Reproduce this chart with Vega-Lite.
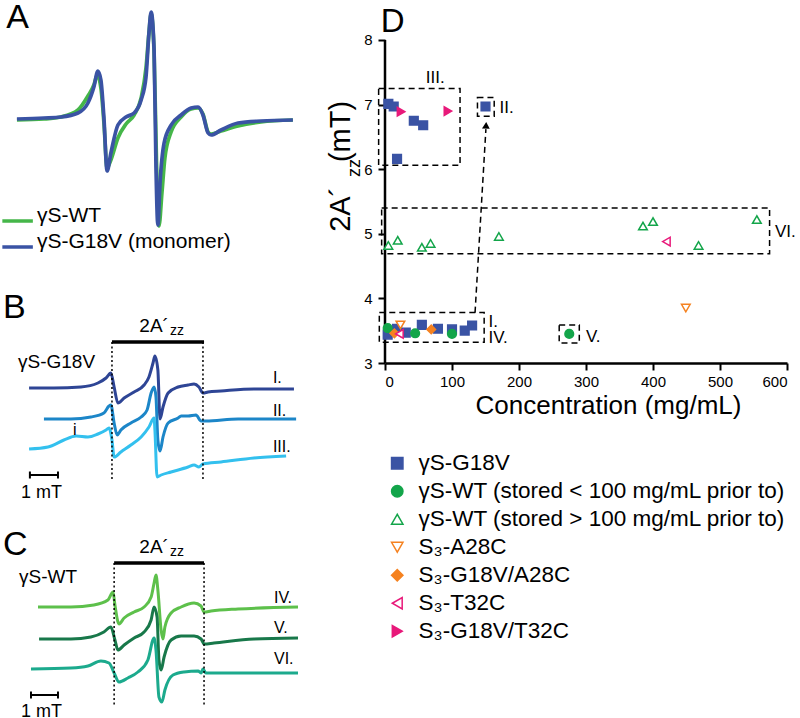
{
  "$schema": "https://vega.github.io/schema/vega-lite/v6.json",
  "padding": 0,
  "spacing": 21,
  "bounds": "full",
  "config": {
    "font": "Liberation Sans",
    "view": {"stroke": null},
    "text": {"font": "Liberation Sans", "color": "black"},
    "axis": {"grid": false, "domainColor": "black", "domainWidth": 2.5, "tickColor": "black", "tickWidth": 2, "tickSize": 7, "labelColor": "black", "labelFont": "Liberation Sans", "labelFontSize": 15, "titleColor": "black", "titleFont": "Liberation Sans", "titleFontWeight": "normal"}
  },
  "datasets": {
    "spectra": [
      {"s":"A1","mT":0.59,"sig":59.8},{"s":"A1","mT":1.59,"sig":59.9},{"s":"A1","mT":2.22,"sig":60.1},{"s":"A1","mT":2.85,"sig":60.8},{"s":"A1","mT":3.22,"sig":62.2},{"s":"A1","mT":3.44,"sig":63.3},{"s":"A1","mT":3.56,"sig":64.3},{"s":"A1","mT":3.70,"sig":63.0},{"s":"A1","mT":3.81,"sig":59.6},{"s":"A1","mT":3.93,"sig":55.0},{"s":"A1","mT":4.07,"sig":55.8},{"s":"A1","mT":4.33,"sig":58.0},{"s":"A1","mT":4.63,"sig":59.4},{"s":"A1","mT":4.93,"sig":60.3},{"s":"A1","mT":5.19,"sig":62.0},{"s":"A1","mT":5.37,"sig":65.0},{"s":"A1","mT":5.48,"sig":68.5},{"s":"A1","mT":5.56,"sig":70.4},{"s":"A1","mT":5.67,"sig":66.5},{"s":"A1","mT":5.76,"sig":55.5},{"s":"A1","mT":5.85,"sig":49.2},{"s":"A1","mT":5.96,"sig":52.5},{"s":"A1","mT":6.07,"sig":56.0},{"s":"A1","mT":6.30,"sig":58.6},{"s":"A1","mT":6.67,"sig":60.1},{"s":"A1","mT":7.04,"sig":60.9},{"s":"A1","mT":7.30,"sig":61.0},{"s":"A1","mT":7.48,"sig":60.4},{"s":"A1","mT":7.67,"sig":58.6},{"s":"A1","mT":7.78,"sig":58.4},{"s":"A1","mT":8.15,"sig":58.7},{"s":"A1","mT":8.78,"sig":59.2},{"s":"A1","mT":9.63,"sig":59.6},{"s":"A1","mT":10.81,"sig":59.8},
      {"s":"A2","mT":0.59,"sig":59.9},{"s":"A2","mT":1.59,"sig":60.0},{"s":"A2","mT":2.22,"sig":60.1},{"s":"A2","mT":2.85,"sig":60.5},{"s":"A2","mT":3.22,"sig":61.5},{"s":"A2","mT":3.44,"sig":63.1},{"s":"A2","mT":3.59,"sig":64.7},{"s":"A2","mT":3.70,"sig":63.8},{"s":"A2","mT":3.81,"sig":60.1},{"s":"A2","mT":3.93,"sig":54.7},{"s":"A2","mT":4.07,"sig":56.5},{"s":"A2","mT":4.33,"sig":59.3},{"s":"A2","mT":4.63,"sig":60.1},{"s":"A2","mT":4.93,"sig":60.5},{"s":"A2","mT":5.19,"sig":61.8},{"s":"A2","mT":5.37,"sig":64.1},{"s":"A2","mT":5.48,"sig":68.5},{"s":"A2","mT":5.56,"sig":70.6},{"s":"A2","mT":5.67,"sig":66.8},{"s":"A2","mT":5.74,"sig":55.1},{"s":"A2","mT":5.81,"sig":49.3},{"s":"A2","mT":5.89,"sig":53.5},{"s":"A2","mT":6.04,"sig":57.5},{"s":"A2","mT":6.30,"sig":59.3},{"s":"A2","mT":6.67,"sig":60.3},{"s":"A2","mT":7.04,"sig":61.0},{"s":"A2","mT":7.30,"sig":61.1},{"s":"A2","mT":7.48,"sig":60.3},{"s":"A2","mT":7.67,"sig":58.5},{"s":"A2","mT":7.78,"sig":58.3},{"s":"A2","mT":8.15,"sig":58.8},{"s":"A2","mT":8.78,"sig":59.5},{"s":"A2","mT":9.63,"sig":59.7},{"s":"A2","mT":10.81,"sig":59.8},
      {"s":"B1","mT":1.04,"sig":33.0},{"s":"B1","mT":1.96,"sig":33.0},{"s":"B1","mT":2.96,"sig":33.1},{"s":"B1","mT":3.59,"sig":33.5},{"s":"B1","mT":3.89,"sig":34.0},{"s":"B1","mT":4.07,"sig":34.5},{"s":"B1","mT":4.19,"sig":33.1},{"s":"B1","mT":4.33,"sig":31.5},{"s":"B1","mT":4.56,"sig":32.0},{"s":"B1","mT":4.93,"sig":32.6},{"s":"B1","mT":5.30,"sig":33.3},{"s":"B1","mT":5.48,"sig":34.1},{"s":"B1","mT":5.63,"sig":35.5},{"s":"B1","mT":5.70,"sig":36.2},{"s":"B1","mT":5.81,"sig":34.8},{"s":"B1","mT":5.89,"sig":29.9},{"s":"B1","mT":6.00,"sig":31.1},{"s":"B1","mT":6.19,"sig":32.5},{"s":"B1","mT":6.56,"sig":33.1},{"s":"B1","mT":6.93,"sig":33.3},{"s":"B1","mT":7.15,"sig":33.4},{"s":"B1","mT":7.33,"sig":33.1},{"s":"B1","mT":7.48,"sig":32.5},{"s":"B1","mT":7.67,"sig":32.6},{"s":"B1","mT":8.15,"sig":32.7},{"s":"B1","mT":9.37,"sig":32.9},{"s":"B1","mT":10.85,"sig":32.9},
      {"s":"B2","mT":1.59,"sig":29.9},{"s":"B2","mT":2.59,"sig":29.9},{"s":"B2","mT":3.33,"sig":30.1},{"s":"B2","mT":3.81,"sig":30.5},{"s":"B2","mT":4.00,"sig":31.2},{"s":"B2","mT":4.07,"sig":31.3},{"s":"B2","mT":4.19,"sig":29.5},{"s":"B2","mT":4.30,"sig":28.3},{"s":"B2","mT":4.44,"sig":28.8},{"s":"B2","mT":4.81,"sig":29.5},{"s":"B2","mT":5.19,"sig":30.1},{"s":"B2","mT":5.41,"sig":30.8},{"s":"B2","mT":5.56,"sig":32.5},{"s":"B2","mT":5.67,"sig":33.1},{"s":"B2","mT":5.74,"sig":32.1},{"s":"B2","mT":5.81,"sig":27.8},{"s":"B2","mT":5.89,"sig":26.7},{"s":"B2","mT":6.00,"sig":28.1},{"s":"B2","mT":6.19,"sig":29.5},{"s":"B2","mT":6.56,"sig":30.0},{"s":"B2","mT":6.67,"sig":30.2},{"s":"B2","mT":6.93,"sig":30.2},{"s":"B2","mT":7.22,"sig":30.3},{"s":"B2","mT":7.41,"sig":29.7},{"s":"B2","mT":7.59,"sig":29.7},{"s":"B2","mT":8.78,"sig":29.9},{"s":"B2","mT":10.93,"sig":29.9},
      {"s":"B3","mT":1.04,"sig":26.9},{"s":"B3","mT":1.74,"sig":27.1},{"s":"B3","mT":2.33,"sig":27.8},{"s":"B3","mT":2.78,"sig":28.2},{"s":"B3","mT":3.22,"sig":28.1},{"s":"B3","mT":3.59,"sig":28.4},{"s":"B3","mT":3.89,"sig":28.8},{"s":"B3","mT":4.00,"sig":29.0},{"s":"B3","mT":4.11,"sig":27.8},{"s":"B3","mT":4.19,"sig":26.1},{"s":"B3","mT":4.44,"sig":26.6},{"s":"B3","mT":4.81,"sig":27.3},{"s":"B3","mT":5.19,"sig":28.1},{"s":"B3","mT":5.48,"sig":29.1},{"s":"B3","mT":5.67,"sig":30.0},{"s":"B3","mT":5.70,"sig":28.8},{"s":"B3","mT":5.78,"sig":24.1},{"s":"B3","mT":5.93,"sig":24.3},{"s":"B3","mT":6.30,"sig":24.6},{"s":"B3","mT":6.93,"sig":25.1},{"s":"B3","mT":7.15,"sig":25.3},{"s":"B3","mT":7.33,"sig":25.1},{"s":"B3","mT":7.48,"sig":25.4},{"s":"B3","mT":8.15,"sig":25.6},{"s":"B3","mT":9.37,"sig":26.0},{"s":"B3","mT":10.56,"sig":26.2},
      {"s":"C4","mT":1.37,"sig":11.1},{"s":"C4","mT":2.59,"sig":11.1},{"s":"C4","mT":3.44,"sig":11.3},{"s":"C4","mT":3.96,"sig":11.8},{"s":"C4","mT":4.15,"sig":12.6},{"s":"C4","mT":4.22,"sig":11.3},{"s":"C4","mT":4.37,"sig":9.4},{"s":"C4","mT":4.56,"sig":10.0},{"s":"C4","mT":4.93,"sig":10.6},{"s":"C4","mT":5.30,"sig":11.1},{"s":"C4","mT":5.56,"sig":12.1},{"s":"C4","mT":5.67,"sig":13.5},{"s":"C4","mT":5.74,"sig":14.3},{"s":"C4","mT":5.81,"sig":12.8},{"s":"C4","mT":5.93,"sig":8.8},{"s":"C4","mT":6.00,"sig":7.9},{"s":"C4","mT":6.07,"sig":9.1},{"s":"C4","mT":6.30,"sig":10.5},{"s":"C4","mT":6.67,"sig":11.1},{"s":"C4","mT":7.15,"sig":11.5},{"s":"C4","mT":7.41,"sig":11.2},{"s":"C4","mT":7.52,"sig":10.6},{"s":"C4","mT":7.78,"sig":10.7},{"s":"C4","mT":8.78,"sig":10.9},{"s":"C4","mT":11.0,"sig":11.1},
      {"s":"C5","mT":1.41,"sig":7.9},{"s":"C5","mT":2.59,"sig":7.9},{"s":"C5","mT":3.33,"sig":8.1},{"s":"C5","mT":3.81,"sig":8.6},{"s":"C5","mT":4.07,"sig":9.1},{"s":"C5","mT":4.22,"sig":7.8},{"s":"C5","mT":4.33,"sig":6.8},{"s":"C5","mT":4.56,"sig":7.3},{"s":"C5","mT":4.93,"sig":8.0},{"s":"C5","mT":5.30,"sig":8.6},{"s":"C5","mT":5.56,"sig":9.8},{"s":"C5","mT":5.67,"sig":11.1},{"s":"C5","mT":5.78,"sig":10.1},{"s":"C5","mT":5.85,"sig":5.8},{"s":"C5","mT":5.93,"sig":4.8},{"s":"C5","mT":6.04,"sig":6.1},{"s":"C5","mT":6.30,"sig":7.8},{"s":"C5","mT":6.67,"sig":8.2},{"s":"C5","mT":7.15,"sig":8.2},{"s":"C5","mT":7.41,"sig":7.9},{"s":"C5","mT":7.52,"sig":7.4},{"s":"C5","mT":7.89,"sig":7.5},{"s":"C5","mT":9.37,"sig":7.9},{"s":"C5","mT":11.0,"sig":8.0},
      {"s":"C6","mT":1.11,"sig":4.9},{"s":"C6","mT":2.59,"sig":5.0},{"s":"C6","mT":3.22,"sig":5.2},{"s":"C6","mT":3.70,"sig":5.7},{"s":"C6","mT":4.00,"sig":5.5},{"s":"C6","mT":4.19,"sig":4.5},{"s":"C6","mT":4.37,"sig":3.6},{"s":"C6","mT":4.70,"sig":4.0},{"s":"C6","mT":5.07,"sig":4.6},{"s":"C6","mT":5.44,"sig":5.8},{"s":"C6","mT":5.67,"sig":8.0},{"s":"C6","mT":5.74,"sig":6.8},{"s":"C6","mT":5.85,"sig":2.1},{"s":"C6","mT":5.96,"sig":1.6},{"s":"C6","mT":6.07,"sig":2.8},{"s":"C6","mT":6.37,"sig":4.3},{"s":"C6","mT":6.78,"sig":4.6},{"s":"C6","mT":7.30,"sig":4.7},{"s":"C6","mT":7.41,"sig":4.5},{"s":"C6","mT":7.48,"sig":4.9},{"s":"C6","mT":7.59,"sig":4.5},{"s":"C6","mT":8.78,"sig":4.5},{"s":"C6","mT":11.0,"sig":4.5}
    ],
    "lrules": [
      {"kind":"bar","mT":4.11,"mT2":7.52,"sig":37.6},
      {"kind":"bar","mT":4.19,"mT2":7.52,"sig":15.5},
      {"kind":"dot","mT":4.11,"sig":37.6,"sig2":23.8},
      {"kind":"dot","mT":7.48,"sig":37.6,"sig2":23.8},
      {"kind":"dot","mT":4.19,"sig":15.5,"sig2":1.3},
      {"kind":"dot","mT":7.52,"sig":15.5,"sig2":1.3},
      {"kind":"scalebar","mT":1.07,"mT2":2.11,"sig":24.3},
      {"kind":"scalebar","mT":1.11,"mT2":2.11,"sig":2.3},
      {"kind":"cap","mT":1.07,"sig":24.65,"sig2":23.95},
      {"kind":"cap","mT":2.11,"sig":24.65,"sig2":23.95},
      {"kind":"cap","mT":1.11,"sig":2.65,"sig2":1.95},
      {"kind":"cap","mT":2.11,"sig":2.65,"sig2":1.95},
      {"kind":"key","s":"A1","mT":0.05,"mT2":1.18,"sig":49.7},
      {"kind":"key","s":"A2","mT":0.05,"mT2":1.18,"sig":47.1}
    ],
    "ltexts": [
      {"kind":"letter","t":"A","mT":0.19,"sig":69.0},
      {"kind":"letter","t":"B","mT":0.07,"sig":40.0},
      {"kind":"letter","t":"C","mT":0.07,"sig":16.3},
      {"kind":"key","t":"γS-WT","mT":1.33,"sig":49.6},
      {"kind":"key","t":"γS-G18V (monomer)","mT":1.33,"sig":47.05},
      {"kind":"name","t":"γS-G18V","mT":0.63,"sig":35.0},
      {"kind":"name","t":"γS-WT","mT":0.67,"sig":13.5},
      {"kind":"az","t":"2A´","mT":6.22,"sig":38.6},
      {"kind":"az","t":"2A´","mT":6.22,"sig":16.5},
      {"kind":"zz","t":"zz","mT":6.26,"sig":38.3},
      {"kind":"zz","t":"zz","mT":6.26,"sig":16.2},
      {"kind":"roman","t":"I.","mT":10.07,"sig":33.5},
      {"kind":"roman","t":"II.","mT":10.07,"sig":30.2},
      {"kind":"roman","t":"III.","mT":10.07,"sig":26.6},
      {"kind":"roman","t":"IV.","mT":10.11,"sig":11.5},
      {"kind":"roman","t":"V.","mT":10.11,"sig":8.5},
      {"kind":"roman","t":"VI.","mT":10.11,"sig":5.4},
      {"kind":"roman","t":"i","mT":2.67,"sig":28.3},
      {"kind":"scale","t":"1 mT","mT":0.74,"sig":22.0},
      {"kind":"scale","t":"1 mT","mT":0.74,"sig":0.1}
    ],
    "pts": [
      {"sample":"γS-G18V","conc":5,"azz":7.01},{"sample":"γS-G18V","conc":13,"azz":6.97},{"sample":"γS-G18V","conc":43,"azz":6.75},{"sample":"γS-G18V","conc":57,"azz":6.68},{"sample":"γS-G18V","conc":18,"azz":6.16},{"sample":"γS-G18V","conc":150,"azz":6.97},{"sample":"γS-G18V","conc":4,"azz":3.44},{"sample":"γS-G18V","conc":18,"azz":3.53},{"sample":"γS-G18V","conc":31,"azz":3.47},{"sample":"γS-G18V","conc":55,"azz":3.59},{"sample":"γS-G18V","conc":79,"azz":3.53},{"sample":"γS-G18V","conc":100,"azz":3.52},{"sample":"γS-G18V","conc":119,"azz":3.5},{"sample":"γS-G18V","conc":130,"azz":3.58},
      {"sample":"γS-WT (stored < 100 mg/mL prior to)","conc":4,"azz":3.54},{"sample":"γS-WT (stored < 100 mg/mL prior to)","conc":45,"azz":3.46},{"sample":"γS-WT (stored < 100 mg/mL prior to)","conc":100,"azz":3.45},{"sample":"γS-WT (stored < 100 mg/mL prior to)","conc":275,"azz":3.45},
      {"sample":"γS-WT (stored > 100 mg/mL prior to)","conc":5,"azz":4.82},{"sample":"γS-WT (stored > 100 mg/mL prior to)","conc":19,"azz":4.9},{"sample":"γS-WT (stored > 100 mg/mL prior to)","conc":55,"azz":4.79},{"sample":"γS-WT (stored > 100 mg/mL prior to)","conc":68,"azz":4.85},{"sample":"γS-WT (stored > 100 mg/mL prior to)","conc":170,"azz":4.96},{"sample":"γS-WT (stored > 100 mg/mL prior to)","conc":385,"azz":5.12},{"sample":"γS-WT (stored > 100 mg/mL prior to)","conc":400,"azz":5.19},{"sample":"γS-WT (stored > 100 mg/mL prior to)","conc":468,"azz":4.82},{"sample":"γS-WT (stored > 100 mg/mL prior to)","conc":555,"azz":5.22},
      {"sample":"S₃-A28C","conc":23,"azz":3.59},{"sample":"S₃-A28C","conc":449,"azz":3.85},
      {"sample":"S₃-G18V/A28C","conc":14,"azz":3.46},{"sample":"S₃-G18V/A28C","conc":69,"azz":3.52},
      {"sample":"S₃-T32C","conc":21.5,"azz":3.45},{"sample":"S₃-T32C","conc":420,"azz":4.88},
      {"sample":"S₃-G18V/T32C","conc":24,"azz":6.89},{"sample":"S₃-G18V/T32C","conc":94,"azz":6.9}
    ],
    "boxes": [
      {"group":"III","conc":-9.5,"conc2":112,"azz":6.06,"azz2":7.25},
      {"group":"II","conc":138,"conc2":163,"azz":6.82,"azz2":7.11},
      {"group":"VI","conc":-5,"conc2":574,"azz":4.69,"azz2":5.4},
      {"group":"I/IV","conc":-8.5,"conc2":148,"azz":3.32,"azz2":3.78},
      {"group":"V","conc":260,"conc2":290,"azz":3.31,"azz2":3.59}
    ],
    "yline": [{"conc":0,"azz":3,"azz2":8}],
    "arrow": [{"conc":134.4,"azz":3.78,"conc2":150.6,"azz2":6.62}],
    "head": [{"conc":150.8,"azz":6.68}],
    "dtexts": [
      {"kind":"box","t":"III.","conc":60.8,"azz":7.34},
      {"kind":"box","t":"II.","conc":171,"azz":6.87},
      {"kind":"box","t":"VI.","conc":582,"azz":4.95},
      {"kind":"box","t":"I.","conc":154.5,"azz":3.55},
      {"kind":"box","t":"IV.","conc":154.5,"azz":3.31},
      {"kind":"box","t":"V.","conc":300,"azz":3.33},
      {"kind":"letter","t":"D","conc":-6.4,"azz":8.124},
      {"kind":"ymain","t":"2A´","conc":-52.7,"azz":5.03},
      {"kind":"ysub","t":"zz","conc":-37.8,"azz":5.88},
      {"kind":"ymain","t":"(mT)","conc":-52.7,"azz":6.11}
    ]
  },
  "hconcat": [
    {
      "width": 300,
      "height": 718,
      "encoding": {
        "x": {"field": "mT", "type": "quantitative", "scale": {"domain": [0, 11.111], "nice": false, "zero": false}, "axis": null},
        "y": {"field": "sig", "type": "quantitative", "scale": {"domain": [0, 71.8], "nice": false, "zero": false}, "axis": null}
      },
      "layer": [
        {"data": {"name": "spectra"}, "transform": [{"filter": "datum.s === 'A1'"}], "mark": {"type": "line", "strokeWidth": 3.7, "interpolate": "monotone"},
         "encoding": {"color": {"field": "s", "type": "nominal", "legend": null, "scale": {"domain": ["A1","A2","B1","B2","B3","C4","C5","C6"], "range": ["#45B649","#3A53A4","#2E4595","#1C86C8","#33C0EE","#5DC04B","#18784A","#1CAA8D"]}}}},
        {"data": {"name": "spectra"}, "transform": [{"filter": "datum.s === 'A2'"}], "mark": {"type": "line", "strokeWidth": 3.7, "interpolate": "monotone"},
         "encoding": {"color": {"field": "s", "type": "nominal", "legend": null}}},
        {"data": {"name": "spectra"}, "transform": [{"filter": "datum.s !== 'A1' && datum.s !== 'A2'"}], "mark": {"type": "line", "strokeWidth": 3, "interpolate": "monotone"},
         "encoding": {"color": {"field": "s", "type": "nominal", "legend": null}}},
        {"data": {"name": "lrules"}, "transform": [{"filter": "datum.kind === 'bar'"}], "mark": {"type": "rule", "strokeWidth": 3.5, "color": "black"},
         "encoding": {"x2": {"field": "mT2"}}},
        {"data": {"name": "lrules"}, "transform": [{"filter": "datum.kind === 'dot'"}], "mark": {"type": "rule", "strokeWidth": 1.5, "color": "black", "strokeDash": [2, 2.5]},
         "encoding": {"y2": {"field": "sig2"}}},
        {"data": {"name": "lrules"}, "transform": [{"filter": "datum.kind === 'scalebar'"}], "mark": {"type": "rule", "strokeWidth": 2, "color": "black"},
         "encoding": {"x2": {"field": "mT2"}}},
        {"data": {"name": "lrules"}, "transform": [{"filter": "datum.kind === 'cap'"}], "mark": {"type": "rule", "strokeWidth": 2, "color": "black"},
         "encoding": {"y2": {"field": "sig2"}}},
        {"data": {"name": "lrules"}, "transform": [{"filter": "datum.kind === 'key'"}], "mark": {"type": "rule", "strokeWidth": 3.5},
         "encoding": {"x2": {"field": "mT2"}, "color": {"field": "s", "type": "nominal", "legend": null}}},
        {"data": {"name": "ltexts"}, "transform": [{"filter": "datum.kind === 'letter'"}], "mark": {"type": "text", "fontSize": 34, "align": "left", "baseline": "alphabetic"},
         "encoding": {"text": {"field": "t"}}},
        {"data": {"name": "ltexts"}, "transform": [{"filter": "datum.kind === 'key'"}], "mark": {"type": "text", "fontSize": 21, "align": "left", "baseline": "alphabetic"},
         "encoding": {"text": {"field": "t"}}},
        {"data": {"name": "ltexts"}, "transform": [{"filter": "datum.kind === 'name'"}], "mark": {"type": "text", "fontSize": 19, "align": "left", "baseline": "alphabetic"},
         "encoding": {"text": {"field": "t"}}},
        {"data": {"name": "ltexts"}, "transform": [{"filter": "datum.kind === 'az'"}], "mark": {"type": "text", "fontSize": 19, "align": "right", "baseline": "alphabetic"},
         "encoding": {"text": {"field": "t"}}},
        {"data": {"name": "ltexts"}, "transform": [{"filter": "datum.kind === 'zz'"}], "mark": {"type": "text", "fontSize": 14, "align": "left", "baseline": "alphabetic"},
         "encoding": {"text": {"field": "t"}}},
        {"data": {"name": "ltexts"}, "transform": [{"filter": "datum.kind === 'roman'"}], "mark": {"type": "text", "fontSize": 16, "align": "left", "baseline": "alphabetic"},
         "encoding": {"text": {"field": "t"}}},
        {"data": {"name": "ltexts"}, "transform": [{"filter": "datum.kind === 'scale'"}], "mark": {"type": "text", "fontSize": 18, "align": "left", "baseline": "alphabetic"},
         "encoding": {"text": {"field": "t"}}}
      ]
    },
    {
      "width": 402,
      "height": 363,
      "encoding": {
        "x": {"field": "conc", "type": "quantitative", "scale": {"domain": [0, 600], "nice": false, "zero": false},
              "axis": {"values": [0, 100, 200, 300, 400, 500, 600], "title": "Concentration (mg/mL)", "titleFontSize": 26, "titlePadding": 3, "titleX": 223, "labelPadding": 4}},
        "y": {"field": "azz", "type": "quantitative", "scale": {"domain": [3, 8.619], "nice": false, "zero": false},
              "axis": {"values": [3, 4, 5, 6, 7, 8], "title": null, "labelPadding": 6, "domain": false}}
      },
      "layer": [
        {"data": {"name": "yline"}, "mark": {"type": "rule", "color": "black", "strokeWidth": 2.5},
         "encoding": {"y2": {"field": "azz2"}}},
        {"data": {"name": "boxes"}, "mark": {"type": "rect", "fill": "transparent", "stroke": "black", "strokeWidth": 1.5, "strokeDash": [6, 4]},
         "encoding": {"x2": {"field": "conc2"}, "y2": {"field": "azz2"}}},
        {"data": {"name": "arrow"}, "mark": {"type": "rule", "color": "black", "strokeWidth": 1.5, "strokeDash": [6, 4]},
         "encoding": {"x2": {"field": "conc2"}, "y2": {"field": "azz2"}}},
        {"data": {"name": "head"}, "mark": {"type": "point", "shape": "triangle-up", "filled": true, "color": "black", "size": 60, "angle": 3, "opacity": 1}},
        {"data": {"name": "pts"}, "mark": {"type": "point", "size": 75, "strokeWidth": 1.5, "opacity": 1},
         "encoding": {
           "shape": {"field": "sample", "type": "nominal",
                     "scale": {"domain": ["γS-G18V","γS-WT (stored < 100 mg/mL prior to)","γS-WT (stored > 100 mg/mL prior to)","S₃-A28C","S₃-G18V/A28C","S₃-T32C","S₃-G18V/T32C"], "range": ["square","circle","triangle-up","triangle-down","diamond","triangle-left","triangle-right"]},
                     "legend": {"title": null, "orient": "none", "legendX": 385, "legendY": 452, "padding": 0, "labelFontSize": 22.5, "labelColor": "black", "symbolSize": 130, "symbolStrokeWidth": 1.5, "rowPadding": 5, "labelOffset": 10, "labelLimit": 500}},
           "fill": {"field": "sample", "type": "nominal",
                    "scale": {"domain": ["γS-G18V","γS-WT (stored < 100 mg/mL prior to)","γS-WT (stored > 100 mg/mL prior to)","S₃-A28C","S₃-G18V/A28C","S₃-T32C","S₃-G18V/T32C"], "range": ["#3A53A4","#13A54A","white","white","#F58220","white","#E8197A"]},
                    "legend": {"title": null, "orient": "none", "legendX": 385, "legendY": 452, "padding": 0, "labelFontSize": 22.5, "labelColor": "black", "symbolSize": 130, "symbolStrokeWidth": 1.5, "rowPadding": 5, "labelOffset": 10, "labelLimit": 500}},
           "stroke": {"field": "sample", "type": "nominal",
                      "scale": {"domain": ["γS-G18V","γS-WT (stored < 100 mg/mL prior to)","γS-WT (stored > 100 mg/mL prior to)","S₃-A28C","S₃-G18V/A28C","S₃-T32C","S₃-G18V/T32C"], "range": ["#3A53A4","#13A54A","#13A54A","#F58220","#F58220","#E8197A","#E8197A"]},
                      "legend": {"title": null, "orient": "none", "legendX": 385, "legendY": 452, "padding": 0, "labelFontSize": 22.5, "labelColor": "black", "symbolSize": 130, "symbolStrokeWidth": 1.5, "rowPadding": 5, "labelOffset": 10, "labelLimit": 500}}
         }},
        {"data": {"name": "dtexts"}, "transform": [{"filter": "datum.kind === 'box'"}], "mark": {"type": "text", "fontSize": 17, "align": "left", "baseline": "alphabetic"},
         "encoding": {"text": {"field": "t"}}},
        {"data": {"name": "dtexts"}, "transform": [{"filter": "datum.kind === 'letter'"}], "mark": {"type": "text", "fontSize": 33, "align": "left", "baseline": "alphabetic"},
         "encoding": {"text": {"field": "t"}}},
        {"data": {"name": "dtexts"}, "transform": [{"filter": "datum.kind === 'ymain'"}], "mark": {"type": "text", "fontSize": 29, "align": "left", "baseline": "alphabetic", "angle": 270},
         "encoding": {"text": {"field": "t"}}},
        {"data": {"name": "dtexts"}, "transform": [{"filter": "datum.kind === 'ysub'"}], "mark": {"type": "text", "fontSize": 18, "align": "left", "baseline": "alphabetic", "angle": 270},
         "encoding": {"text": {"field": "t"}}}
      ]
    }
  ]
}
